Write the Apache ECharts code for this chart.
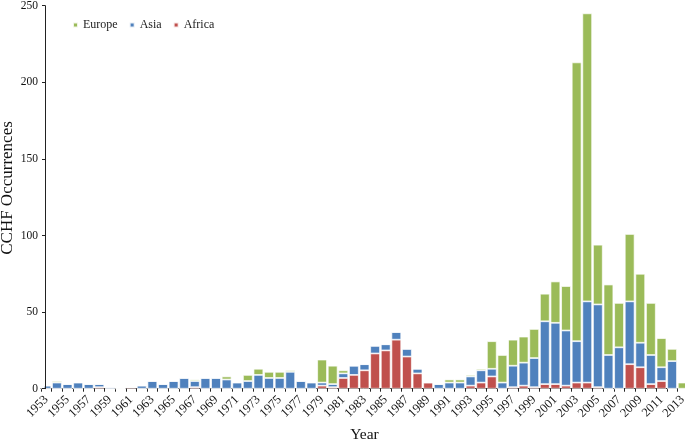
<!DOCTYPE html>
<html>
<head>
<meta charset="utf-8">
<script src="https://cdn.jsdelivr.net/npm/echarts@6/dist/echarts.min.js"></script>
<style>html,body{margin:0;padding:0;background:#fff;}#c{width:685px;height:441px;}</style>
</head>
<body>
<div id="c"></div>
<script>
const years = ['1953','1954','1955','1956','1957','1958','1959','1960','1961','1962',
  '1963','1964','1965','1966','1967','1968','1969','1970','1971','1972',
  '1973','1974','1975','1976','1977','1978','1979','1980','1981','1982',
  '1983','1984','1985','1986','1987','1988','1989','1990','1991','1992',
  '1993','1994','1995','1996','1997','1998','1999','2000','2001','2002',
  '2003','2004','2005','2006','2007','2008','2009','2010','2011','2012','2013'];
const africa = [0,0,0,0,0,1,0,0,1,0,
  0,0,0,0,1,0,0,0,0,0,
  0,0,0,0,0,0,2,1,7,9,
  12,23,25,32,21,10,4,0,0,0,
  2,4,8,0,1,2,1,3,3,2,
  4,4,1,0,0,16,14,3,5,0,0];
const asia = [2,4,3,4,3,2,1,0,0,2,
  5,3,5,7,4,7,7,6,4,5,
  9,7,7,11,5,4,2,2,3,6,
  4,5,4,5,5,3,0,3,4,4,
  6,8,5,4,14,15,19,41,40,36,
  27,53,54,22,27,41,16,19,9,18,0];
const europe = [0,1,0,0,0,0,0,0,0,0,
  0,0,0,0,1,0,0,2,0,4,
  4,4,4,1,0,0,15,12,2,0,
  0,0,0,0,0,0,0,0,2,2,
  1,1,18,18,17,17,19,18,27,29,
  182,188,39,46,29,44,45,34,19,8,4];
const yTicks = {min: 0, max: 250, interval: 50};

const FONT = "'Liberation Serif','Times New Roman',serif";
const chart = echarts.init(document.getElementById('c'), null, {renderer: 'canvas'});
const border = {borderColor: 'rgba(255,255,255,0.85)', borderWidth: 0.8};
function mk(name, data, color) {
  return {name: name, type: 'bar', stack: 'total', barCategoryGap: '8%', data: data,
    itemStyle: Object.assign({color: color}, border)};
}
chart.setOption({
  animation: false,
  backgroundColor: '#fff',
  textStyle: {fontFamily: FONT, color: '#111'},
  legend: {
    data: ['Europe', 'Asia', 'Africa'],
    left: 72, top: 19, padding: 0, itemWidth: 5, itemHeight: 5, itemGap: 11,
    icon: 'rect',
    textStyle: {fontFamily: FONT, fontSize: 12, color: '#222'}
  },
  grid: {left: 41, top: 5.7, width: 647, height: 383, containLabel: false, outerBoundsMode: 'none'},
  xAxis: {
    type: 'category', data: years,
    name: 'Year', nameLocation: 'middle', nameGap: 36,
    nameTextStyle: {fontFamily: FONT, fontSize: 15.5, color: '#111'},
    axisLine: {lineStyle: {color: '#222', width: 1}},
    axisTick: {show: true, interval: 0, length: 3, lineStyle: {color: '#222'}},
    axisLabel: {interval: 1, rotate: 45, fontFamily: FONT, fontSize: 12.5, color: '#111', margin: 9}
  },
  yAxis: {
    type: 'value', min: yTicks.min, max: yTicks.max, interval: yTicks.interval,
    offset: -4, z: 10,
    axisLine: {show: true, lineStyle: {color: '#222', width: 1}},
    axisTick: {show: true, length: 3, lineStyle: {color: '#222'}},
    splitLine: {show: false},
    axisLabel: {fontFamily: FONT, fontSize: 11.5, color: '#111', margin: 7}
  },
  graphic: [
    {type: 'rect', z: 5, shape: {x: 40, y: 0, width: 4.5, height: 388}, style: {fill: '#fff'}},
    {type: 'text', z: 10, x: 8, y: 188, rotation: Math.PI / 2,
     style: {text: 'CCHF Occurrences', fontFamily: FONT, fontSize: 17, fill: '#111',
             textAlign: 'center', textVerticalAlign: 'middle', align: 'center', verticalAlign: 'middle'}}
  ],
  series: [
    mk('Africa', africa, '#C0504D'),
    mk('Asia', asia, '#4F81BD'),
    mk('Europe', europe, '#9BBB59')
  ]
});
</script>
</body>
</html>
